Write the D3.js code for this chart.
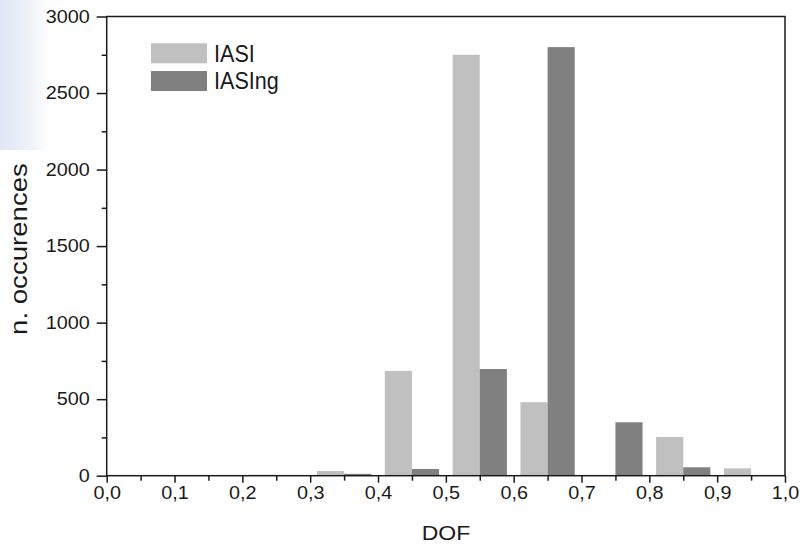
<!DOCTYPE html>
<html>
<head>
<meta charset="utf-8">
<script src="https://cdn.jsdelivr.net/npm/d3@7"></script>
<style>
  html, body { margin: 0; padding: 0; background: #fff; }
  svg { display: block; font-family: "Liberation Sans", Arial, sans-serif; }
</style>
</head>
<body>
<script>
// histogram bins (left edge of each 0.1 DOF bin)
const bins = [0.0, 0.1, 0.2, 0.3, 0.4, 0.5, 0.6, 0.7, 0.8, 0.9];
const iasi = [0, 0, 6, 31, 685, 2750, 480, 4, 253, 48];
const iasing = [0, 0, 0, 12, 44, 697, 2800, 349, 55, 0];

const seriesNames = ["IASI", "IASIng"];

const xTicks = [0, 0.1, 0.2, 0.3, 0.4, 0.5, 0.6, 0.7, 0.8, 0.9, 1.0];
const xTickLabels = ["0,0", "0,1", "0,2", "0,3", "0,4", "0,5", "0,6", "0,7", "0,8", "0,9", "1,0"];
const xMinor = [0.05, 0.15, 0.25, 0.35, 0.45, 0.55, 0.65, 0.75, 0.85, 0.95];
const yTicks = [0, 500, 1000, 1500, 2000, 2500, 3000];
const yMinor = [250, 750, 1250, 1750, 2250, 2750];

const w = 802, h = 545;
const plotLeft = 106.7, plotRight = 785, plotTop = 16.5, plotBottom = 475.7;
const colors = ["#c0c0c0", "#808080"];

const svg = d3.select("body").append("svg")
  .attr("width", w)
  .attr("height", h);

// faint blue patch at the top-left corner of the original scan
const defs = svg.append("defs");
const grad = defs.append("linearGradient")
  .attr("id", "blueFade")
  .attr("x1", "0%").attr("x2", "100%");
grad.append("stop").attr("offset", "0%").attr("stop-color", "#dfe7f3");
grad.append("stop").attr("offset", "60%").attr("stop-color", "#eef2f9");
grad.append("stop").attr("offset", "100%").attr("stop-color", "#ffffff");
svg.append("rect")
  .attr("x", 0).attr("y", 0)
  .attr("width", 50).attr("height", 150)
  .attr("fill", "url(#blueFade)");

const x = d3.scaleLinear().domain([0, 1]).range([plotLeft, plotRight]);
const y = d3.scaleLinear().domain([0, 3000]).range([plotBottom, plotTop]);

// bars: light one at bin+0.01..0.05, dark one at bin+0.05..0.09
const rows = bins.map((b, i) => ({ bin: b, a: iasi[i], b2: iasing[i] }));

svg.append("g").selectAll("rect")
  .data(rows)
  .enter()
  .append("rect")
  .attr("x", d => x(d.bin + 0.01))
  .attr("width", d => x(d.bin + 0.05) - x(d.bin + 0.01))
  .attr("y", d => y(d.a))
  .attr("height", d => y(0) - y(d.a))
  .attr("fill", colors[0]);

svg.append("g").selectAll("rect")
  .data(rows)
  .enter()
  .append("rect")
  .attr("x", d => x(d.bin + 0.05))
  .attr("width", d => x(d.bin + 0.09) - x(d.bin + 0.05))
  .attr("y", d => y(d.b2))
  .attr("height", d => y(0) - y(d.b2))
  .attr("fill", colors[1]);

// y axis
const yAxis = svg.append("g")
  .attr("transform", "translate(" + plotLeft + ",0)")
  .call(d3.axisLeft(y).tickValues(yTicks).tickSize(10).tickFormat(d3.format("d")));
yAxis.selectAll(".tick text")
  .attr("x", 0)
  .attr("transform", "translate(-17,0) scale(1.1,1)");

svg.append("g")
  .attr("transform", "translate(" + plotLeft + ",0)")
  .call(d3.axisLeft(y).tickValues(yMinor).tickSize(5).tickFormat(""));

// x axis
const xAxis = svg.append("g")
  .attr("transform", "translate(0," + plotBottom + ")")
  .call(d3.axisBottom(x).tickValues(xTicks).tickSize(7).tickPadding(4)
    .tickFormat((d, i) => xTickLabels[i]));
xAxis.selectAll(".tick text")
  .attr("transform", "scale(1.1,1)");

svg.append("g")
  .attr("transform", "translate(0," + plotBottom + ")")
  .call(d3.axisBottom(x).tickValues(xMinor).tickSize(5).tickFormat(""));

svg.selectAll(".domain").remove();
svg.selectAll(".tick line").attr("stroke", "#1a1a1a").attr("stroke-width", 1.5);
svg.selectAll(".tick text")
  .attr("font-size", 18)
  .attr("fill", "#1a1a1a")
  .style("font-family", "'Liberation Sans', Arial, sans-serif");

// frame
svg.append("rect")
  .attr("x", plotLeft).attr("y", plotTop)
  .attr("width", plotRight - plotLeft).attr("height", plotBottom - plotTop)
  .attr("fill", "none")
  .attr("stroke", "#1a1a1a")
  .attr("stroke-width", 1.5);

// axis titles
svg.append("text")
  .attr("transform", "translate(27,249) rotate(-90) scale(1.15,1)")
  .attr("text-anchor", "middle")
  .attr("font-size", 24)
  .attr("fill", "#1a1a1a")
  .text("n. occurences");

svg.append("text")
  .attr("transform", "translate(446,540) scale(1.15,1)")
  .attr("text-anchor", "middle")
  .attr("font-size", 20)
  .attr("fill", "#1a1a1a")
  .text("DOF");

// legend
const legend = svg.append("g");
seriesNames.forEach((name, i) => {
  legend.append("rect")
    .attr("x", 151)
    .attr("y", 43.3 + i * 27.7)
    .attr("width", 56)
    .attr("height", 20)
    .attr("fill", colors[i]);
  legend.append("text")
    .attr("transform", "translate(214," + (62 + i * 27) + ") scale(0.9,1)")
    .attr("font-size", 24)
    .attr("fill", "#1a1a1a")
    .text(name);
});
</script>
</body>
</html>
